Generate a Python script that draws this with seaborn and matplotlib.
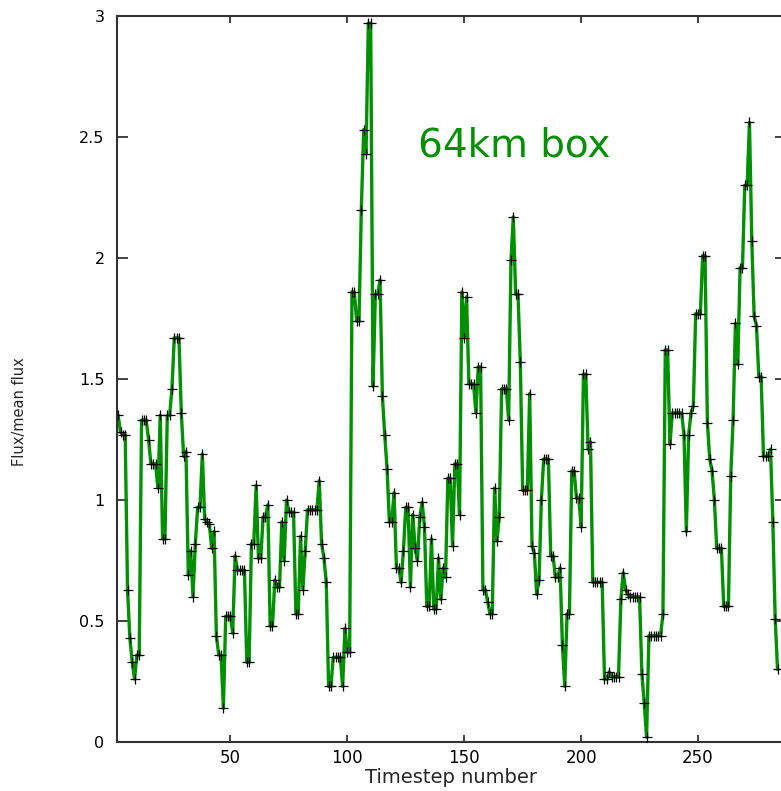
import numpy as np
import pandas as pd
import matplotlib
matplotlib.use("Agg")
import matplotlib.pyplot as plt
import seaborn as sns

# Flux / mean flux per timestep (timesteps 2..284)
flux = [
    1.35, 1.28, 1.27, 1.27, 0.63, 0.43, 0.33, 0.26, 0.36, 0.36,
    1.33, 1.33, 1.33, 1.25, 1.15, 1.15, 1.15, 1.05, 1.35, 0.84,
    0.84, 1.35, 1.35, 1.46, 1.67, 1.67, 1.67, 1.36, 1.18, 1.20,
    0.69, 0.79, 0.60, 0.82, 0.97, 0.97, 1.19, 0.92, 0.91, 0.90,
    0.80, 0.87, 0.44, 0.36, 0.36, 0.14, 0.52, 0.52, 0.52, 0.45,
    0.77, 0.71, 0.71, 0.71, 0.71, 0.33, 0.33, 0.82, 0.82, 1.06,
    0.76, 0.76, 0.93, 0.93, 0.98, 0.48, 0.48, 0.67, 0.64, 0.64,
    0.91, 0.75, 1.00, 0.95, 0.95, 0.95, 0.53, 0.53, 0.85, 0.63,
    0.79, 0.96, 0.96, 0.96, 0.96, 0.96, 1.08, 0.82, 0.76, 0.66,
    0.23, 0.23, 0.35, 0.35, 0.35, 0.35, 0.23, 0.47, 0.37, 0.37,
    1.86, 1.86, 1.74, 1.74, 2.20, 2.53, 2.43, 2.97, 2.97, 1.47,
    1.85, 1.85, 1.91, 1.43, 1.27, 1.13, 0.91, 0.91, 1.03, 0.72,
    0.72, 0.66, 0.79, 0.97, 0.97, 0.64, 0.94, 0.80, 0.75, 0.93,
    0.99, 0.89, 0.56, 0.56, 0.84, 0.55, 0.55, 0.76, 0.59, 0.72,
    0.68, 1.09, 1.09, 0.81, 1.15, 1.15, 0.94, 1.86, 1.67, 1.84,
    1.48, 1.48, 1.48, 1.36, 1.55, 1.55, 0.63, 0.63, 0.58, 0.53,
    0.53, 1.05, 0.83, 0.93, 1.46, 1.46, 1.46, 1.33, 1.99, 2.17,
    1.85, 1.85, 1.57, 1.04, 1.04, 1.04, 1.44, 0.81, 0.78, 0.61,
    0.67, 1.00, 1.17, 1.17, 1.17, 0.77, 0.77, 0.68, 0.68, 0.72,
    0.40, 0.23, 0.53, 0.53, 1.12, 1.12, 1.01, 1.01, 0.89, 1.52,
    1.52, 1.21, 1.24, 0.66, 0.66, 0.66, 0.66, 0.66, 0.26, 0.26,
    0.29, 0.27, 0.27, 0.27, 0.27, 0.59, 0.70, 0.63, 0.61, 0.60,
    0.60, 0.60, 0.60, 0.60, 0.28, 0.16, 0.02, 0.44, 0.44, 0.44,
    0.44, 0.44, 0.44, 0.53, 1.62, 1.62, 1.23, 1.36, 1.36, 1.36,
    1.36, 1.36, 1.27, 0.87, 1.27, 1.36, 1.39, 1.77, 1.77, 1.77,
    2.01, 2.01, 1.32, 1.17, 1.12, 1.00, 0.80, 0.80, 0.80, 0.56,
    0.56, 0.56, 1.10, 1.33, 1.73, 1.56, 1.96, 1.96, 2.30, 2.30,
    2.56, 2.07, 1.76, 1.72, 1.51, 1.51, 1.18, 1.18, 1.18, 1.21,
    0.91, 0.51, 0.30,
]
first_step = 2
timestep = list(range(first_step, first_step + len(flux)))

x_ticks = [50, 100, 150, 200, 250]
y_ticks = [0, 0.5, 1, 1.5, 2, 2.5, 3]
y_tick_labels = ["0", "0.5", "1", "1.5", "2", "2.5", "3"]

df = pd.DataFrame({"Timestep": timestep, "Flux": flux})

sns.set_theme(style="ticks")
plt.rcParams["font.family"] = ["DejaVu Sans"]

W, H = 781, 791
fig = plt.figure(figsize=(W / 100, H / 100), dpi=100)
left_px, right_px, top_px, bottom_px = 117, 785.7, 16, 742
ax = fig.add_axes([left_px / W, 1 - bottom_px / H,
                   (right_px - left_px) / W, (bottom_px - top_px) / H])

green = "#008f00"
sns.lineplot(data=df, x="Timestep", y="Flux", ax=ax, color=green,
             linewidth=2.4, estimator=None, sort=False, zorder=2)
sns.scatterplot(data=df, x="Timestep", y="Flux", ax=ax, marker="+",
                color="black", s=45, linewidth=0.9, zorder=3)

ax.set_xlim(1.5, 287.5)
ax.set_ylim(0, 3)
ax.set_xticks(x_ticks)
ax.set_yticks(y_ticks)
ax.set_yticklabels(y_tick_labels)

for s in ax.spines.values():
    s.set_color("#333333")
    s.set_linewidth(1.5)
ax.tick_params(axis="y", direction="in", length=8, width=1.2, color="#222222",
               left=True, right=True, labelsize=11.5, pad=9, labelcolor="black")
ax.tick_params(axis="x", direction="in", length=5, width=1.2, color="#222222",
               bottom=True, top=True, labelsize=12, pad=5, labelcolor="black")

ax.set_xlabel("Timestep number", fontsize=14, labelpad=1)
ax.set_ylabel("")
fig.text(20 / W, 1 - 412 / H, "Flux/mean flux", rotation=90, fontsize=10.5,
         ha="center", va="center")

ax.text(130.2, 2.42, "64km box", color=green, fontsize=28,
        ha="left", va="baseline")

fig.savefig("out.png", dpi=100)
